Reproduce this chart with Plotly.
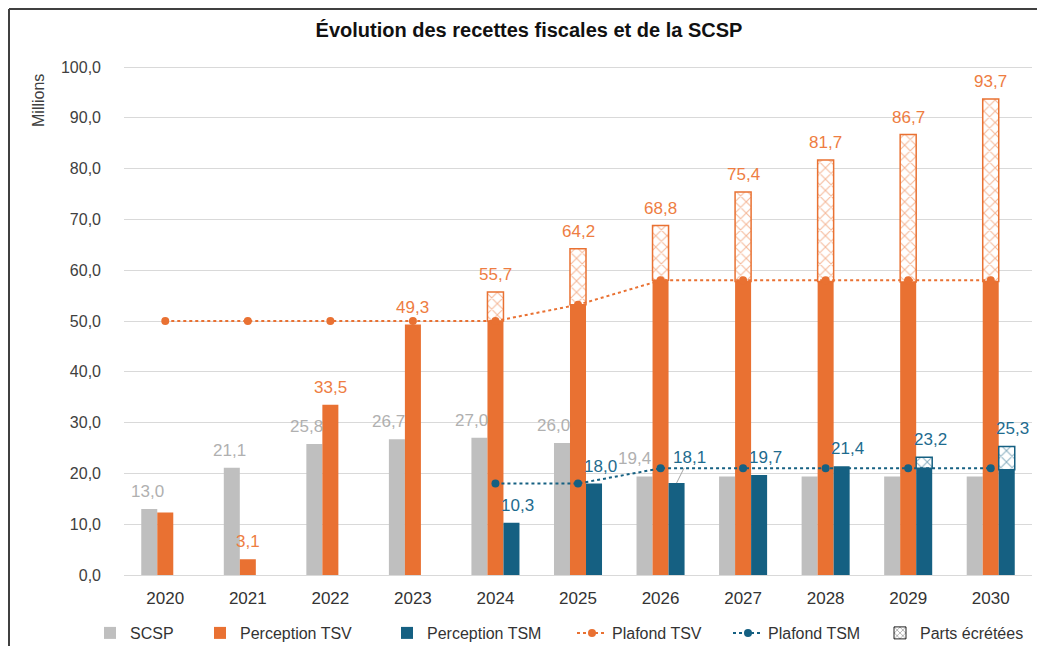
import plotly.graph_objects as go

years = ['2020', '2021', '2022', '2023', '2024', '2025', '2026', '2027', '2028', '2029', '2030']
scsp = [13.0, 21.1, 25.8, 26.7, 27.0, 26.0, 19.4, 19.4, 19.4, 19.4, 19.4]
perception_tsv = [12.3, 3.1, 33.5, 49.3, 50.0, 53.2, 58.0, 57.8, 57.8, 57.7, 57.8]
total_tsv = [None, None, None, None, 55.7, 64.2, 68.8, 75.4, 81.7, 86.7, 93.7]
perception_tsm = [None, None, None, None, 10.3, 18.0, 18.1, 19.7, 21.4, 21.0, 20.7]
total_tsm = [None, None, None, None, None, None, None, None, None, 23.2, 25.3]
plafond_tsv = [50.0, 50.0, 50.0, 50.0, 50.0, 53.2, 58.0, 58.0, 58.0, 58.0, 58.0]
plafond_tsm = [None, None, None, None, 18.0, 18.0, 21.0, 21.0, 21.0, 21.0, 21.0]
# label values shown on the chart (None = no label)
scsp_labels = [13.0, 21.1, 25.8, 26.7, 27.0, 26.0, 19.4, None, None, None, None]
tsv_labels = [None, 3.1, 33.5, 49.3, 55.7, 64.2, 68.8, 75.4, 81.7, 86.7, 93.7]
tsm_labels = [None, None, None, None, 10.3, 18.0, 18.1, 19.7, 21.4, 23.2, 25.3]

GRAY = '#BFBFBF'
ORANGE = '#E97132'
TEAL = '#156082'
W = 0.194
FONT = 'Liberation Sans'

# the page body has an 8px margin: figure coordinates = screen coordinates - 8
FW, FH = 1037, 638
L, R, T, B = 116, 1024, 58, 567   # plot area in figure pixels
PW, PH = R - L, B - T


def px_x(x):
    return (x - 8 - L) / PW


def px_y(y):
    return (B - (y - 8)) / PH


fig = go.Figure()
fig.add_trace(go.Bar(name='SCSP', x=years, y=scsp, marker=dict(color=GRAY, line_width=0),
                     width=W, offset=-1.5 * W, legend='legend'))
fig.add_trace(go.Bar(name='Perception TSV', x=years, y=perception_tsv,
                     marker=dict(color=ORANGE, line_width=0), width=W, offset=-0.5 * W, legend='legend2'))
hb_tsv = [(t - p) if t is not None else None for t, p in zip(total_tsv, perception_tsv)]
fig.add_trace(go.Bar(name='Parts TSV', x=years, y=hb_tsv, base=perception_tsv, showlegend=False,
                     marker=dict(color='white', line=dict(color=ORANGE, width=1.5),
                                 pattern=dict(shape='x', fgcolor=ORANGE, bgcolor='white', size=8, solidity=0.25)),
                     width=W, offset=-0.5 * W))
fig.add_trace(go.Bar(name='Perception TSM', x=years, y=perception_tsm,
                     marker=dict(color=TEAL, line_width=0), width=W, offset=0.5 * W, legend='legend3'))
hb_tsm = [(t - p) if (t is not None and p is not None) else None for t, p in zip(total_tsm, perception_tsm)]
fig.add_trace(go.Bar(name='Parts TSM', x=years, y=hb_tsm, base=[p if p is not None else 0 for p in perception_tsm],
                     showlegend=False,
                     marker=dict(color='white', line=dict(color=TEAL, width=1.5),
                                 pattern=dict(shape='x', fgcolor=TEAL, bgcolor='white', size=8, solidity=0.25)),
                     width=W, offset=0.5 * W))
fig.add_trace(go.Scatter(name='Plafond TSV', x=years, y=plafond_tsv, mode='lines+markers',
                         line=dict(color=ORANGE, width=2, dash='dot'), marker=dict(size=8, color=ORANGE),
                         legend='legend4'))
fig.add_trace(go.Scatter(name='Plafond TSM', x=years, y=plafond_tsm, mode='lines+markers',
                         line=dict(color=TEAL, width=2, dash='dot'), marker=dict(size=8, color=TEAL),
                         legend='legend5'))
fig.add_trace(go.Bar(name='Parts écrétées', x=years, y=[None] * len(years), legend='legend6',
                     marker=dict(color='white', line=dict(color='#222222', width=1),
                                 pattern=dict(shape='x', fgcolor='#222222', bgcolor='white', size=5, solidity=0.3))))


def fmt(v):
    return f"{v:.1f}".replace('.', ',')


LBL = 17
ann = []
for i, v in enumerate(scsp_labels):
    if v is None:
        continue
    shift = -10 if years[i] == '2026' else (-8 if i >= 2 else -2)
    ann.append(dict(x=i - W, y=scsp[i], text=fmt(v), showarrow=False, yanchor='bottom', yshift=6,
                    xshift=shift, font=dict(color='#B0B0B0', size=LBL, family=FONT)))
for i, v in enumerate(tsv_labels):
    if v is None:
        continue
    ann.append(dict(x=i, y=v, text=fmt(v), showarrow=False, yanchor='bottom', yshift=6,
                    font=dict(color='#EE7D42', size=LBL, family=FONT)))
for i, v in enumerate(tsm_labels):
    if v is None:
        continue
    top = total_tsm[i] if total_tsm[i] is not None else perception_tsm[i]
    if years[i] == '2026':
        ann.append(dict(x=i + W, y=top, text=fmt(v), showarrow=True, arrowhead=0, arrowwidth=1,
                        arrowcolor='#A6A6A6', ax=13, ay=-26, xanchor='center', yanchor='middle',
                        font=dict(color='#1E6B8E', size=LBL, family=FONT)))
    else:
        ann.append(dict(x=i + W, y=top, text=fmt(v), showarrow=False, yanchor='bottom', yshift=6,
                        xshift=6, font=dict(color='#1E6B8E', size=LBL, family=FONT)))

ann.append(dict(xref='paper', yref='paper', x=px_x(38), y=px_y(101), text='Millions',
                textangle=-90, xanchor='center', yanchor='middle',
                showarrow=False, font=dict(size=16, color='#404040', family=FONT)))

shapes = [
    dict(type='line', xref='paper', yref='paper', x0=px_x(9), x1=px_x(9),
         y0=px_y(9), y1=px_y(660), line=dict(color='#404040', width=2)),
    dict(type='line', xref='paper', yref='paper', x0=px_x(9), x1=px_x(1060),
         y0=px_y(9), y1=px_y(9), line=dict(color='#404040', width=2)),
]

leg_common = dict(orientation='h', xref='container', yref='container', yanchor='middle',
                  y=1 - (633 - 8) / FH, font=dict(size=16, color='#333333', family=FONT),
                  itemwidth=30, bgcolor='rgba(0,0,0,0)')
text_starts = [130, 240, 427, 612, 768, 920]   # screen x of each legend label
leg_x = [(t - 48) / FW for t in text_starts]

fig.update_layout(
    width=FW, height=FH,
    margin=dict(l=L, r=FW - R, t=T, b=FH - B, autoexpand=False),
    paper_bgcolor='white', plot_bgcolor='white',
    barmode='overlay',
    separators=', ',
    font=dict(family=FONT, size=16, color='#404040'),
    title=dict(text='<b>Évolution des recettes fiscales et de la SCSP</b>', x=(529 - 8) / FW, xanchor='center',
               y=1 - (30 - 8) / FH, yanchor='middle', font=dict(size=20, color='#111111', family=FONT)),
    xaxis=dict(type='category', range=[-0.5, 10.5], showgrid=False, showline=True, linecolor='#D9D9D9',
               linewidth=1, ticks='', tickfont=dict(size=17, color='#333333'), ticklabelstandoff=8),
    yaxis=dict(range=[0, 100.2], dtick=10, tickformat='.1f', showgrid=True, gridcolor='#D9D9D9',
               gridwidth=1, zeroline=False, showline=False, ticks='', ticklabelstandoff=22,
               tickfont=dict(size=16, color='#404040')),
    legend=dict(leg_common, x=leg_x[0]),
    legend2=dict(leg_common, x=leg_x[1]),
    legend3=dict(leg_common, x=leg_x[2]),
    legend4=dict(leg_common, x=leg_x[3]),
    legend5=dict(leg_common, x=leg_x[4]),
    legend6=dict(leg_common, x=leg_x[5]),
    annotations=ann,
    shapes=shapes,
    showlegend=True,
)

fig.write_html('out.html')
